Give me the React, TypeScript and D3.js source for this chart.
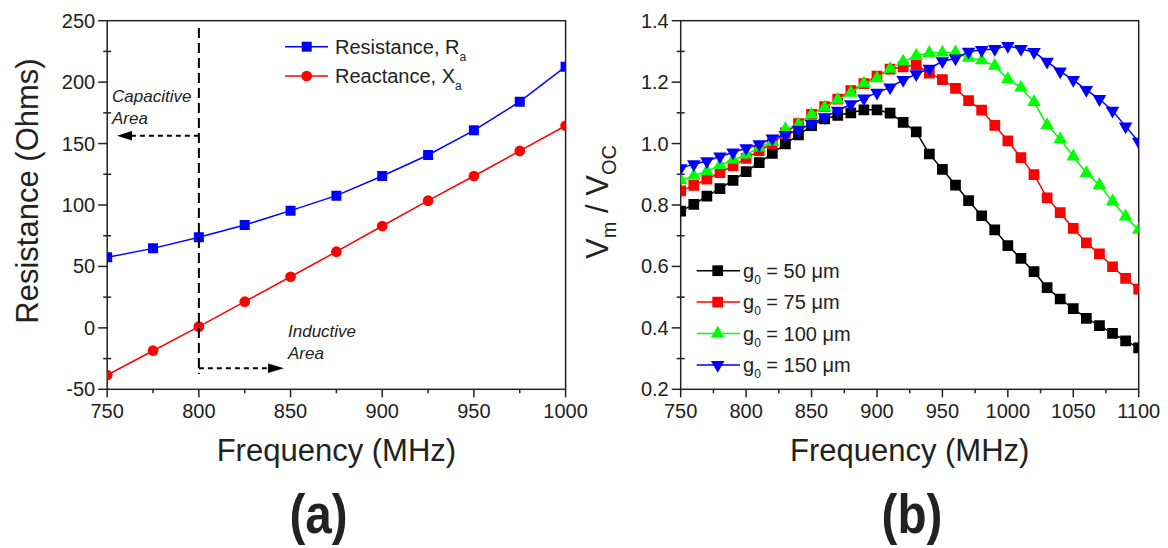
import React from 'react';
import * as d3 from 'd3';

const FONT = '"Liberation Sans", Arial, Helvetica, sans-serif';

// ---------- Panel (a) data ----------
const freqA = [750, 775, 800, 825, 850, 875, 900, 925, 950, 975, 1000];
const resistance = [57.4, 64.7, 73.7, 83.7, 95.4, 107.6, 123.6, 140.7, 160.8, 184.1, 212.6];
const reactance = [-38.4, -18.6, 1, 21.3, 41.6, 62, 82.9, 103.5, 123.6, 144, 164.5];
const xTicksA = [750, 800, 850, 900, 950, 1000];
const yTicksA = [-50, 0, 50, 100, 150, 200, 250];

// ---------- Panel (b) data ----------
const freqB = [750, 760, 770, 780, 790, 800, 810, 820, 830, 840, 850, 860, 870, 880, 890, 900, 910, 920,
  930, 940, 950, 960, 970, 980, 990, 1000, 1010, 1020, 1030, 1040, 1050, 1060, 1070, 1080, 1090, 1100];
const g50 = [0.78, 0.802, 0.829, 0.853, 0.88, 0.909, 0.938, 0.968, 0.999, 1.028, 1.058, 1.08, 1.092, 1.1, 1.11, 1.11,
  1.099, 1.069, 1.038, 0.966, 0.916, 0.865, 0.814, 0.765, 0.719, 0.668, 0.626, 0.583, 0.531, 0.494, 0.463, 0.431,
  0.407, 0.382, 0.358, 0.335];
const g75 = [0.846, 0.864, 0.884, 0.905, 0.928, 0.952, 0.977, 1.0, 1.035, 1.065, 1.095, 1.12, 1.145, 1.172, 1.195, 1.22,
  1.242, 1.25, 1.256, 1.229, 1.208, 1.18, 1.14, 1.109, 1.059, 1.009, 0.954, 0.899, 0.823, 0.775, 0.724, 0.677,
  0.641, 0.599, 0.561, 0.526];
const g100 = [0.88, 0.895, 0.91, 0.93, 0.947, 0.964, 0.987, 1.006, 1.047, 1.062, 1.094, 1.117, 1.142, 1.165, 1.195, 1.212,
  1.243, 1.267, 1.286, 1.295, 1.296, 1.297, 1.279, 1.271, 1.253, 1.21, 1.182, 1.135, 1.06, 1.014, 0.958, 0.904,
  0.865, 0.812, 0.762, 0.719];
const g150 = [0.92, 0.933, 0.943, 0.958, 0.971, 0.985, 0.998, 1.017, 1.028, 1.045, 1.064, 1.086, 1.107, 1.128, 1.147, 1.166,
  1.183, 1.207, 1.226, 1.244, 1.268, 1.277, 1.299, 1.305, 1.308, 1.318, 1.308, 1.298, 1.267, 1.235, 1.207, 1.175,
  1.145, 1.107, 1.056, 1.006];
const xTicksB = [750, 800, 850, 900, 950, 1000, 1050, 1100];
const yTicksB = [0.2, 0.4, 0.6, 0.8, 1.0, 1.2, 1.4];
const gapLabels = ['50', '75', '100', '150'];

type Sym = 'square' | 'circle' | 'up' | 'down';

function symPath(kind: Sym, size: number) {
  if (kind === 'square') return d3.symbol(d3.symbolSquare, size)()!;
  if (kind === 'circle') return d3.symbol(d3.symbolCircle, size)()!;
  return d3.symbol(d3.symbolTriangle, size)()!;
}

function Marker({ x, y, kind, size, color }: { x: number; y: number; kind: Sym; size: number; color: string }) {
  const rot = kind === 'down' ? ' rotate(180)' : '';
  return <path d={symPath(kind, size)} transform={`translate(${x},${y})${rot}`} fill={color} />;
}

function Axes({ x, y, xTicks, yTicks, xMinorStep, yMinorStep, yFmt, clipId }: any) {
  const [x0, x1] = x.range();
  const [y0, y1] = y.range(); // y0 bottom, y1 top
  const xd = x.domain();
  const yd = y.domain();
  const xMinor: number[] = d3.range(xd[0], xd[1] + 1e-9, xMinorStep).filter((v: number) => !xTicks.some((t: number) => Math.abs(t - v) < 1e-9));
  const yMinor: number[] = d3.range(yd[0], yd[1] + 1e-9, yMinorStep).filter((v: number) => !yTicks.some((t: number) => Math.abs(t - v) < 1e-9));
  return (
    <g>
      <defs>
        <clipPath id={clipId}>
          <rect x={x0} y={y1} width={x1 - x0} height={y0 - y1} />
        </clipPath>
      </defs>
      <rect x={x0} y={y1} width={x1 - x0} height={y0 - y1} fill="none" stroke="#222" strokeWidth={1.5} />
      {xTicks.map((t: number) => (
        <g key={'xt' + t}>
          <line x1={x(t)} x2={x(t)} y1={y0} y2={y0 + 8} stroke="#222" strokeWidth={1.5} />
          <text x={x(t)} y={y0 + 29} textAnchor="middle" fontSize={20} fill="#222" fontFamily={FONT}>{t}</text>
        </g>
      ))}
      {xMinor.map((t: number) => (
        <line key={'xm' + t} x1={x(t)} x2={x(t)} y1={y0} y2={y0 + 4} stroke="#222" strokeWidth={1.5} />
      ))}
      {yTicks.map((t: number) => (
        <g key={'yt' + t}>
          <line x1={x0 - 9} x2={x0} y1={y(t)} y2={y(t)} stroke="#222" strokeWidth={1.5} />
          <text x={x0 - 12} y={y(t) + 7} textAnchor="end" fontSize={20} fill="#222" fontFamily={FONT}>{yFmt(t)}</text>
        </g>
      ))}
      {yMinor.map((t: number) => (
        <line key={'ym' + t} x1={x0 - 4} x2={x0 + 4} y1={y(t)} y2={y(t)} stroke="#222" strokeWidth={1.5} />
      ))}
    </g>
  );
}

export default function App() {
  // Panel (a)
  const xA = d3.scaleLinear().domain([750, 1000]).range([107.2, 565.6]);
  const yA = d3.scaleLinear().domain([-50, 250]).range([389.3, 20.7]);
  const lineA = (vals: number[]) =>
    d3.line<number>().x((_, i) => xA(freqA[i])).y((v) => yA(v))(vals)!;

  // Panel (b)
  const xB = d3.scaleLinear().domain([750, 1100]).range([680.7, 1138.7]);
  const yB = d3.scaleLinear().domain([0.2, 1.4]).range([389.3, 20.7]);
  const lineB = (vals: number[]) =>
    d3.line<number>().x((_, i) => xB(freqB[i])).y((v) => yB(v))(vals)!;

  const seriesB = [
    { vals: g50, color: '#000000', kind: 'square' as Sym, size: 115 },
    { vals: g75, color: '#FF0000', kind: 'square' as Sym, size: 115 },
    { vals: g100, color: '#00FF00', kind: 'up' as Sym, size: 80 },
    { vals: g150, color: '#0000FF', kind: 'down' as Sym, size: 80 },
  ];
  const seriesA = [
    { vals: resistance, color: '#0000FF', kind: 'square' as Sym, size: 100, name: 'Resistance, R', sub: 'a' },
    { vals: reactance, color: '#FF0000', kind: 'circle' as Sym, size: 90, name: 'Reactance, X', sub: 'a' },
  ];

  const xv = xA(800);

  return (
    <svg width={1168} height={548} style={{ position: 'absolute', left: 0, top: 0, background: '#fff' }} fontFamily={FONT}>
      <rect x={0} y={0} width={1168} height={548} fill="#fff" />

      {/* ---------- Panel (a) ---------- */}
      <Axes x={xA} y={yA} xTicks={xTicksA} yTicks={yTicksA} xMinorStep={25} yMinorStep={25} yFmt={(t: number) => String(t)} clipId="clipA" />
      <g clipPath="url(#clipA)">
        {seriesA.map((s) => (
          <g key={s.name}>
            <path d={lineA(s.vals)} fill="none" stroke={s.color} strokeWidth={1.5} />
            {s.vals.map((v, i) => (
              <Marker key={i} x={xA(freqA[i])} y={yA(v)} kind={s.kind} size={s.size} color={s.color} />
            ))}
          </g>
        ))}
      </g>
      {/* annotations */}
      <line x1={xv} x2={xv} y1={28} y2={374} stroke="#000" strokeWidth={2} strokeDasharray="10,5" />
      <line x1={xv} x2={131} y1={135.7} y2={135.7} stroke="#000" strokeWidth={2} strokeDasharray="5,4" />
      <path d={`M117,135.7 L132,131 L132,140.4 Z`} fill="#000" />
      <line x1={xv} x2={268} y1={368.3} y2={368.3} stroke="#000" strokeWidth={2} strokeDasharray="5,4" />
      <path d={`M284,368.3 L268,363.6 L268,373 Z`} fill="#000" />
      <text x={112} y={102} fontSize={17} fontStyle="italic" fill="#222">Capacitive</text>
      <text x={112} y={124} fontSize={17} fontStyle="italic" fill="#222">Area</text>
      <text x={288} y={337} fontSize={17} fontStyle="italic" fill="#222">Inductive</text>
      <text x={288} y={359} fontSize={17} fontStyle="italic" fill="#222">Area</text>
      {/* legend (a) */}
      {seriesA.map((s, i) => {
        const ly = 46.7 + i * 29.3;
        return (
          <g key={'lga' + i}>
            <line x1={285} x2={328} y1={ly} y2={ly} stroke={s.color} strokeWidth={1.5} />
            <Marker x={306.7} y={ly} kind={s.kind} size={s.size} color={s.color} />
            <text x={335} y={ly + 7} fontSize={20} fill="#222">
              {s.name}
              <tspan fontSize={12} dy={7}>{s.sub}</tspan>
            </text>
          </g>
        );
      })}
      <text x={336.4} y={461} textAnchor="middle" fontSize={31} fill="#222">Frequency (MHz)</text>
      <text transform="translate(37.6,191) rotate(-90)" textAnchor="middle" fontSize={31} fill="#222">Resistance (Ohms)</text>
      <text transform="translate(318.5,533) scale(0.85,1)" textAnchor="middle" fontSize={56} fontWeight="bold" fill="#222">(a)</text>

      {/* ---------- Panel (b) ---------- */}
      <Axes x={xB} y={yB} xTicks={xTicksB} yTicks={yTicksB} xMinorStep={25} yMinorStep={0.1} yFmt={(t: number) => t.toFixed(1)} clipId="clipB" />
      <g clipPath="url(#clipB)">
        {seriesB.map((s, si) => (
          <g key={'sb' + si}>
            <path d={lineB(s.vals)} fill="none" stroke={s.color} strokeWidth={1.5} />
            {s.vals.map((v, i) => (
              <Marker key={i} x={xB(freqB[i])} y={yB(v)} kind={s.kind} size={s.size} color={s.color} />
            ))}
          </g>
        ))}
      </g>
      {/* legend (b) */}
      {seriesB.map((s, i) => {
        const ly = 270.7 + i * 31.4;
        return (
          <g key={'lgb' + i}>
            <line x1={696.7} x2={740} y1={ly} y2={ly} stroke={s.color} strokeWidth={1.5} />
            <Marker x={717.7} y={ly} kind={s.kind} size={s.size} color={s.color} />
            <text x={743} y={ly + 7} fontSize={20} fill="#222">
              g<tspan fontSize={12} dy={6}>0</tspan>
              <tspan dy={-6}>{` = ${gapLabels[i]} \u03BCm`}</tspan>
            </text>
          </g>
        );
      })}
      <text x={909.7} y={461} textAnchor="middle" fontSize={31} fill="#222">Frequency (MHz)</text>
      <text transform="translate(608,202) rotate(-90)" textAnchor="middle" fontSize={31} fill="#222">
        V<tspan fontSize={20} dy={8}>m</tspan>
        <tspan dy={-8}>{' / V'}</tspan>
        <tspan fontSize={20} dy={8}>OC</tspan>
      </text>
      <text transform="translate(912,533) scale(0.85,1)" textAnchor="middle" fontSize={56} fontWeight="bold" fill="#222">(b)</text>
    </svg>
  );
}
